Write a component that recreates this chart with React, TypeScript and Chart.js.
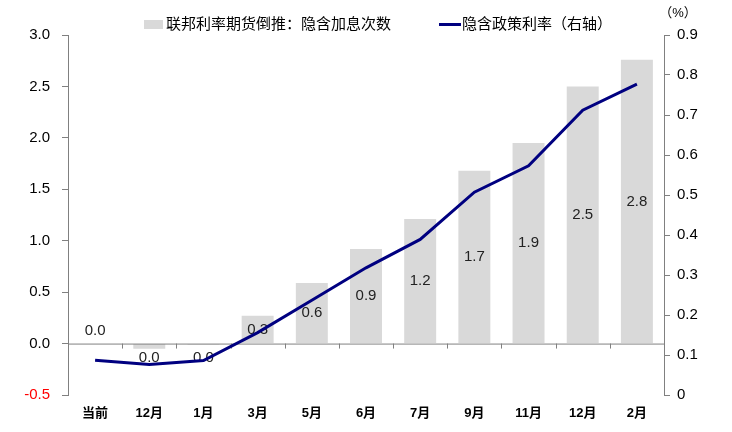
import React, { useEffect, useRef } from "react";
import { Chart, registerables } from "chart.js";

Chart.register(...registerables);

const categories = ["当前", "12月", "1月", "3月", "5月", "6月", "7月", "9月", "11月", "12月", "2月"];
const hikeCounts = [0.0, -0.05, -0.01, 0.27, 0.59, 0.92, 1.21, 1.68, 1.95, 2.5, 2.76];
const hikeLabels = ["0.0", "0.0", "0.0", "0.3", "0.6", "0.9", "1.2", "1.7", "1.9", "2.5", "2.8"];
const impliedRate = [0.087, 0.076, 0.086, 0.156, 0.237, 0.318, 0.389, 0.507, 0.573, 0.712, 0.777];

const barLegend = "联邦利率期货倒推：隐含加息次数";
const lineLegend = "隐含政策利率（右轴）";
const unitLabel = "（%）";

const FONT = "'Liberation Sans', Arial, 'Noto Sans CJK SC', sans-serif";
const AXIS_GRAY = "#808080";

export default function App() {
  const ref = useRef<HTMLCanvasElement | null>(null);

  useEffect(() => {
    const canvas = ref.current;
    if (!canvas) return;

    const overlay = {
      id: "overlay",
      afterDatasetDraw(chart: any, args: any) {
        if (args.index !== 0) return;
        const ctx = chart.ctx;
        const area = chart.chartArea;
        const y0 = chart.scales.y.getPixelForValue(0);
        // zero axis line with category ticks
        ctx.save();
        ctx.strokeStyle = AXIS_GRAY;
        ctx.lineWidth = 1;
        ctx.beginPath();
        ctx.moveTo(area.left, y0 + 0.5);
        ctx.lineTo(area.right, y0 + 0.5);
        const n = categories.length;
        const w = (area.right - area.left) / n;
        for (let i = 1; i < n; i++) {
          const x = Math.round(area.left + w * i) + 0.5;
          ctx.moveTo(x, y0);
          ctx.lineTo(x, y0 + 5);
        }
        ctx.stroke();
        // bar labels
        const meta = chart.getDatasetMeta(0);
        ctx.fillStyle = "#222222";
        ctx.font = `15px ${FONT}`;
        ctx.textAlign = "center";
        ctx.textBaseline = "middle";
        meta.data.forEach((el: any, i: number) => {
          const h = Math.abs(el.base - el.y);
          let y = (el.y + el.base) / 2;
          if (h < 18) {
            y = hikeCounts[i] >= 0 ? el.base - 13 : el.base + 14;
          }
          ctx.fillText(hikeLabels[i], el.x, y);
        });
        ctx.restore();
      },
      afterDraw(chart: any) {
        const ctx = chart.ctx;
        ctx.save();
        ctx.textBaseline = "middle";
        ctx.textAlign = "left";
        ctx.font = `15px ${FONT}`;
        ctx.fillStyle = "#d9d9d9";
        ctx.fillRect(144, 20, 19, 9);
        ctx.fillStyle = "#000000";
        ctx.fillText(barLegend, 166, 25);
        ctx.strokeStyle = "#000080";
        ctx.lineWidth = 3;
        ctx.beginPath();
        ctx.moveTo(439, 24.5);
        ctx.lineTo(461, 24.5);
        ctx.stroke();
        ctx.fillText(lineLegend, 462, 25);
        ctx.font = `13px ${FONT}`;
        ctx.textAlign = "center";
        ctx.fillText(unitLabel, 678, 13);
        ctx.restore();
      },
    };

    const chart = new Chart(canvas, {
      type: "bar",
      data: {
        labels: categories,
        datasets: [
          {
            type: "bar",
            label: barLegend,
            data: hikeCounts,
            backgroundColor: "#d9d9d9",
            borderWidth: 0,
            yAxisID: "y",
            order: 1,
            barPercentage: 1,
            categoryPercentage: 0.59,
          },
          {
            type: "line",
            label: lineLegend,
            data: impliedRate,
            borderColor: "#000080",
            backgroundColor: "#000080",
            borderWidth: 3,
            pointRadius: 0,
            tension: 0,
            yAxisID: "y1",
            order: 0,
          },
        ],
      } as any,
      options: {
        animation: false,
        responsive: false,
        devicePixelRatio: 1,
        layout: { padding: { top: 35, left: 0, right: 0, bottom: 0 } },
        plugins: {
          legend: { display: false },
          tooltip: { enabled: false },
        },
        scales: {
          x: {
            grid: { display: false, drawTicks: false },
            border: { display: false },
            ticks: {
              color: "#000000",
              font: { family: FONT, size: 13, weight: "bold" },
              padding: 11,
              maxRotation: 0,
              autoSkip: false,
            },
            afterFit(axis: any) {
              axis.height = 37;
            },
          },
          y: {
            position: "left",
            min: -0.5,
            max: 3.0,
            grid: { display: true, drawOnChartArea: false, color: AXIS_GRAY, tickLength: 6 },
            border: { display: true, color: AXIS_GRAY },
            ticks: {
              stepSize: 0.5,
              padding: 12,
              font: { family: FONT, size: 15 },
              color: (c: any) => (c.tick && c.tick.value < 0 ? "#ff0000" : "#000000"),
              callback: (v: any) => Number(v).toFixed(1),
            },
            afterFit(axis: any) {
              axis.width = 68;
            },
          },
          y1: {
            position: "right",
            min: 0,
            max: 0.9,
            grid: { display: true, drawOnChartArea: false, color: AXIS_GRAY, tickLength: 6 },
            border: { display: true, color: AXIS_GRAY },
            ticks: {
              stepSize: 0.1,
              padding: 7,
              font: { family: FONT, size: 15 },
              color: "#000000",
              callback: (v: any) => (Math.abs(Number(v)) < 1e-9 ? "0" : Number(v).toFixed(1)),
            },
            afterFit(axis: any) {
              axis.width = 68;
            },
          },
        },
      } as any,
      plugins: [overlay],
    });

    return () => chart.destroy();
  }, []);

  return (
    <div style={{ position: "fixed", left: 0, top: 0, width: 732, height: 432, background: "#ffffff" }}>
      <canvas ref={ref} width={732} height={432} style={{ width: 732, height: 432, display: "block" }} />
    </div>
  );
}
